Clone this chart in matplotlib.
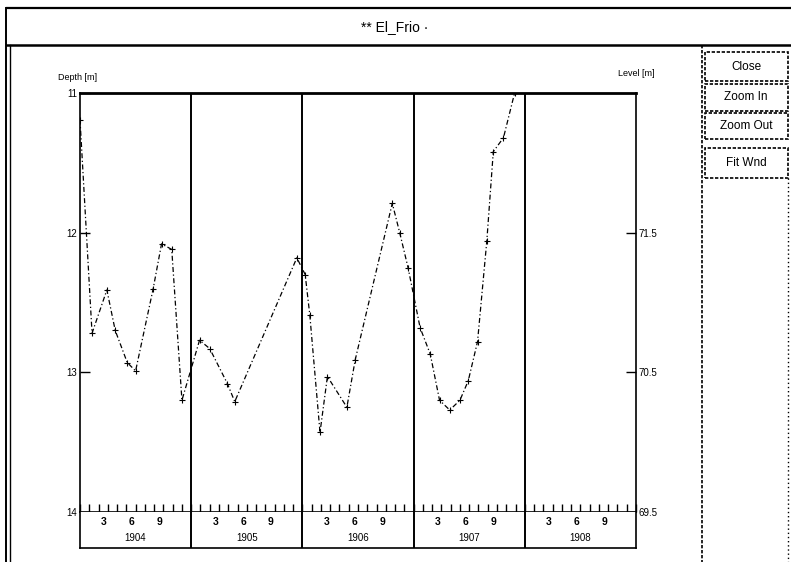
import matplotlib
matplotlib.use("Agg")
import matplotlib.pyplot as plt
from matplotlib.lines import Line2D
from matplotlib.patches import Rectangle

plt.rcParams['font.family'] = ['Liberation Sans', 'DejaVu Sans']

# Well "El_Frio": depth to water, sampled roughly monthly (months since Jan 1904)
months = [0.0, 1.3, 2.9, 3.8, 5.1, 6.0, 7.9, 8.8, 9.9, 11.0,
          12.9, 14.0, 15.9, 16.7, 23.4,
          24.3, 24.8, 25.9, 26.7, 28.8, 29.7, 33.7, 34.5, 35.4,
          36.7, 37.8, 38.8, 39.9, 41.0, 41.9, 42.9, 43.9, 44.6, 45.7, 46.9]
depth = [11.19, 12.72, 12.41, 12.70, 12.93, 12.99, 12.40, 12.08, 12.12, 13.20,
         12.77, 12.83, 13.08, 13.21, 12.18,
         12.30, 12.59, 13.43, 13.03, 13.25, 12.91, 11.79, 12.00, 12.25,
         12.68, 12.87, 13.20, 13.27, 13.20, 13.06, 12.78, 12.06, 11.42, 11.32, 11.00]

years = ["1904", "1905", "1906", "1907", "1908"]
month_labels = ["3", "6", "9"]
depth_ticks = [11, 12, 13, 14]
level_ticks = [71.5, 70.5, 69.5]
ground_level = 83.5  # level = ground_level - depth
buttons = ["Close", "Zoom In", "Zoom Out", "Fit Wnd"]

W, H = 791, 562
fig = plt.figure(figsize=(W / 100, H / 100), dpi=100)
fig.patch.set_facecolor("white")


def fx(x):
    return x / W


def fy(y):
    return 1 - y / H


def hline(x0, x1, y, lw=1.0, **kw):
    fig.add_artist(Line2D([fx(x0), fx(x1)], [fy(y), fy(y)], color="k", lw=lw, **kw))


def vline(x, y0, y1, lw=1.0, **kw):
    fig.add_artist(Line2D([fx(x), fx(x)], [fy(y0), fy(y1)], color="k", lw=lw, **kw))


# window frame and title bar
hline(7, 791, 8, lw=1.6)
hline(7, 791, 45, lw=1.8)
vline(6, 8, 562, lw=1.4)
vline(10, 45, 562, lw=1.0)
fig.text(fx(395), fy(27), "** El_Frio ·", ha="center", va="center", fontsize=10)

# button column
vline(702, 45, 562, lw=1.2, linestyle=(0, (2, 1)))
btn_y = [(52, 81), (84, 111), (113, 139), (148, 178)]
for label, (y0, y1) in zip(buttons, btn_y):
    fig.add_artist(Rectangle((fx(705), fy(y1)), fx(788) - fx(705), fy(y0) - fy(y1),
                             fill=False, edgecolor="k", lw=1.2, linestyle=(0, (2, 1))))
    fig.text(fx(746), fy((y0 + y1) / 2), label, ha="center", va="center", fontsize=8.5)
vline(788, 178, 562, lw=1.0, linestyle=(0, (1, 2)))

# main plot axes
left, right, top, bottom = 80, 636, 93, 512
ax = fig.add_axes([fx(left), fy(bottom), fx(right) - fx(left), fy(top) - fy(bottom)])
nyears = len(years)
ax.set_xlim(0, 12 * nyears)
ax.set_ylim(14, 11)
ax.plot(months, depth, color="k", lw=0.9, linestyle=(0, (4, 2, 1, 2)),
        marker="+", markersize=4, markeredgewidth=0.8, clip_on=True)

for s in ax.spines.values():
    s.set_linewidth(1.2)
ax.spines["top"].set_linewidth(2.0)

ax.set_yticks(depth_ticks)
ax.set_yticklabels([str(t) for t in depth_ticks])
ax.tick_params(axis="y", direction="in", length=7, width=1.0, labelsize=7, pad=2)
ax.set_xticks(range(0, 12 * nyears + 1))
ax.set_xticklabels([])
ax.tick_params(axis="x", direction="in", length=6, width=1.0, bottom=True, top=False)

# level axis on the right
ax2 = ax.twinx()
ax2.set_ylim(ground_level - 14, ground_level - 11)
ax2.set_yticks(level_ticks)
ax2.set_yticklabels([f"{t:.1f}" for t in level_ticks])
ax2.tick_params(axis="y", direction="in", length=7, width=1.0, labelsize=7, pad=2)
for s in ax2.spines.values():
    s.set_visible(False)

fig.text(fx(78), fy(77), "Depth [m]", ha="center", va="center", fontsize=6.5)
fig.text(fx(636), fy(74), "Level [m]", ha="center", va="center", fontsize=6.5)

# year dividers through the plot and the label strip
strip_bottom = 548
sax = fig.add_axes([fx(left), fy(strip_bottom), fx(right) - fx(left), fy(bottom) - fy(strip_bottom)])
sax.set_xlim(0, 12 * nyears)
sax.set_ylim(0, 1)
sax.set_xticks([])
sax.set_yticks([])
for s in sax.spines.values():
    s.set_linewidth(1.2)
sax.spines["top"].set_visible(False)
for i in range(1, nyears):
    ax.axvline(12 * i, color="k", lw=1.4)
    sax.axvline(12 * i, color="k", lw=1.4)
for i, yr in enumerate(years):
    for m in month_labels:
        sax.text(12 * i + int(m) - 0.4, 0.72, m, ha="center", va="center",
                 fontsize=7.5, fontweight="bold")
    sax.text(12 * i + 6, 0.27, yr, ha="center", va="center", fontsize=7)

fig.savefig("out.png", dpi=100)
